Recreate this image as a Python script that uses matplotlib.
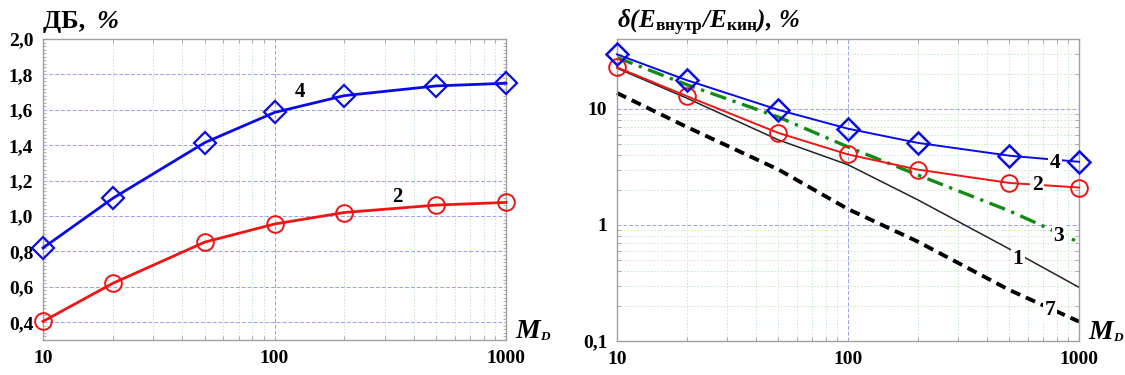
import matplotlib
matplotlib.use("Agg")
import matplotlib.pyplot as plt
from matplotlib.ticker import FixedLocator, FuncFormatter, NullFormatter, LogLocator

plt.rcParams['font.family'] = ['Liberation Serif', 'DejaVu Serif']
plt.rcParams['mathtext.fontset'] = 'custom'
plt.rcParams['mathtext.rm'] = 'Liberation Serif'
plt.rcParams['mathtext.it'] = 'Liberation Serif:italic'
plt.rcParams['mathtext.bf'] = 'Liberation Serif:bold'
plt.rcParams['mathtext.bfit'] = 'Liberation Serif:italic:bold'
plt.rcParams['xtick.labelsize'] = 14
plt.rcParams['ytick.labelsize'] = 14

# ---- data ----
md = [10, 20, 50, 100, 200, 500, 1000]
db_curve4 = [0.82, 1.10, 1.415, 1.585, 1.68, 1.735, 1.75]
db_curve2 = [0.405, 0.62, 0.853, 0.955, 1.02, 1.062, 1.077]

delta_curve4 = [29.5, 17.7, 9.8, 6.75, 5.1, 3.95, 3.5]
delta_curve2 = [22.8, 12.9, 6.2, 4.05, 3.0, 2.3, 2.1]
delta_curve3 = [27.7, 16.2, 8.5, 4.7, 2.7, 1.32, 0.71]
delta_curve1 = [22.4, 12.4, 5.4, 3.3, 1.65, 0.62, 0.29]
delta_curve7 = [13.7, 7.0, 3.0, 1.37, 0.72, 0.275, 0.147]

left_yticks = [0.4, 0.6, 0.8, 1.0, 1.2, 1.4, 1.6, 1.8, 2.0]
x_ticks = [10, 100, 1000]
right_yticks = [0.1, 1, 10]

BLUE = '#0a0ae6'
RED = '#f01414'
GREEN = '#138a13'
SPINE = '#a0a0a0'

fig = plt.figure(figsize=(11.25, 3.75), dpi=100)
axL = fig.add_axes([43/1125, 35/375, 463/1125, 301/375])
axR = fig.add_axes([617/1125, 34/375, 462/1125, 302/375])

left_fmt = FuncFormatter(lambda v, p: ('%.1f' % v).replace('.', ','))
right_fmt = FuncFormatter(lambda v, p: ('%d' % v) if v >= 1 else ('%.1f' % v).replace('.', ','))
x_fmt = FuncFormatter(lambda v, p: '%d' % v)

def style(ax):
    for s in ax.spines.values():
        s.set_color(SPINE)
        s.set_linewidth(1.0)
    ax.tick_params(which='both', direction='in', top=True, right=True, color=SPINE)
    ax.tick_params(which='major', length=0, pad=7)
    ax.tick_params(which='minor', length=3, width=0.6)
    ax.grid(True, which='major', color='#9aa0ee', linestyle=(0, (4, 2)), linewidth=0.7)
    ax.grid(True, which='minor', color='#c0e8c0', linestyle=(0, (2, 2)), linewidth=0.6)
    ax.set_axisbelow(True)

def bold_labels(ax):
    for lab in ax.get_xticklabels() + ax.get_yticklabels():
        lab.set_fontweight('bold')

def md_label(ax):
    ax.text(1.020, 0.005, 'M', transform=ax.transAxes, fontsize=20, fontweight='bold',
            style='italic', ha='left', va='baseline')
    ax.text(1.073, 0.0, 'D', transform=ax.transAxes, fontsize=9.5, fontweight='bold',
            style='italic', ha='left', va='baseline')

# ---- left panel ----
axL.set_xscale('log')
axL.set_xlim(10, 1000)
axL.set_ylim(0.3, 2.0)
axL.plot(md, db_curve4, color=BLUE, lw=2.0, marker='D', ms=11, mfc='none', mew=1.6, clip_on=False, zorder=3)
axL.plot(md, db_curve2, color=RED, lw=2.0, marker='o', ms=12, mfc='none', mew=1.4, clip_on=False, zorder=3)
axL.xaxis.set_major_locator(FixedLocator(x_ticks))
axL.xaxis.set_major_formatter(x_fmt)
axL.xaxis.set_minor_locator(LogLocator(base=10, subs=range(2, 10)))
axL.xaxis.set_minor_formatter(NullFormatter())
axL.yaxis.set_major_locator(FixedLocator(left_yticks))
axL.yaxis.set_major_formatter(left_fmt)
axL.yaxis.set_minor_locator(FixedLocator([0.3 + 0.02 * i for i in range(86)]))
axL.yaxis.set_minor_formatter(NullFormatter())
style(axL)
axL.tick_params(axis='y', which='minor', length=2.5)
axL.grid(False, axis='y', which='minor')
bold_labels(axL)
axL.text(0.0, 1.037, 'ДБ, ', transform=axL.transAxes, fontsize=19, fontweight='bold',
         ha='left', va='baseline')
axL.text(0.115, 1.037, '%', transform=axL.transAxes, fontsize=19, fontweight='bold',
         style='italic', ha='left', va='baseline')
md_label(axL)
axL.text(129, 1.70, '4', fontsize=15, fontweight='bold', ha='center', va='center')
axL.text(338, 1.107, '2', fontsize=15, fontweight='bold', ha='center', va='center')

# ---- right panel ----
axR.set_xscale('log')
axR.set_yscale('log')
axR.set_xlim(10, 1000)
axR.set_ylim(0.1, 40)
axR.plot(md, delta_curve1, color='#222222', lw=1.1, zorder=2, clip_on=False)
axR.plot(md, delta_curve7, color='black', lw=2.8, linestyle=(0, (2.6, 1.6)), zorder=2, clip_on=False)
axR.plot(md, delta_curve3, color=GREEN, lw=2.4, linestyle=(0, (5, 2, 1, 2)), zorder=2, clip_on=False)
axR.plot(md, delta_curve2, color=RED, lw=1.4, marker='o', ms=12, mfc='none', mew=1.4, zorder=3, clip_on=False)
axR.plot(md, delta_curve4, color=BLUE, lw=1.4, marker='D', ms=11, mfc='none', mew=1.8, zorder=3, clip_on=False)
axR.xaxis.set_major_locator(FixedLocator(x_ticks))
axR.xaxis.set_major_formatter(x_fmt)
axR.xaxis.set_minor_locator(LogLocator(base=10, subs=range(2, 10)))
axR.xaxis.set_minor_formatter(NullFormatter())
axR.yaxis.set_major_locator(FixedLocator(right_yticks))
axR.yaxis.set_major_formatter(right_fmt)
axR.yaxis.set_minor_locator(LogLocator(base=10, subs=range(2, 10)))
axR.yaxis.set_minor_formatter(NullFormatter())
style(axR)
bold_labels(axR)
axR.text(0.0, 1.035,
         r'$\mathbfit{\delta(E}_{\mathbf{внутр}}\mathbfit{/E}_{\mathbf{кин}}\mathbfit{),\,\%}$',
         transform=axR.transAxes, fontsize=18, ha='left', va='baseline')
md_label(axR)
bb = dict(facecolor='white', edgecolor='none', pad=1.0)
axR.text(787, 3.45, '4', fontsize=15.5, fontweight='bold', ha='center', va='center', bbox=bb, zorder=4)
axR.text(658, 2.2, '2', fontsize=15.5, fontweight='bold', ha='center', va='center', bbox=bb, zorder=4)
axR.text(819, 0.80, '3', fontsize=15.5, fontweight='bold', ha='center', va='center', bbox=bb, zorder=4)
axR.text(544, 0.51, '1', fontsize=15.5, fontweight='bold', ha='center', va='center', bbox=bb, zorder=4)
axR.text(748, 0.184, '7', fontsize=15.5, fontweight='bold', ha='center', va='center', bbox=bb, zorder=4)

fig.savefig('out.png', dpi=100, facecolor='white')
